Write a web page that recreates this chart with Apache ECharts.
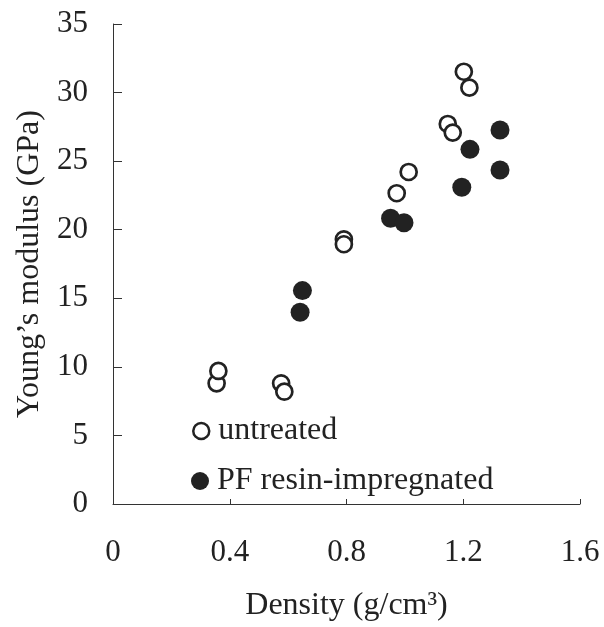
<!DOCTYPE html>
<html>
<head>
<meta charset="utf-8">
<script src="https://cdn.jsdelivr.net/npm/echarts@6/dist/echarts.min.js"></script>
<style>
html,body{margin:0;padding:0;background:#fff;}
#chart{width:604px;height:627px;}
</style>
</head>
<body>
<div id="chart"></div>
<script>
// Density (g/cm3) and Young's modulus (GPa)
const untreatedDensity = [0.355, 0.361, 0.576, 0.587, 0.791, 0.791, 0.972, 1.013, 1.147, 1.164, 1.202, 1.221];
const untreatedModulus = [8.80, 9.70, 8.80, 8.19, 19.30, 18.94, 22.66, 24.21, 27.71, 27.08, 31.52, 30.36];
const pfDensity = [0.641, 0.649, 0.951, 0.997, 1.195, 1.223, 1.326, 1.326];
const pfModulus = [13.98, 15.56, 20.83, 20.51, 23.09, 25.86, 24.35, 27.27];
const seriesNames = ['untreated', 'PF resin-impregnated'];
const xTicks = [0, 0.4, 0.8, 1.2, 1.6];
const yTicks = [0, 5, 10, 15, 20, 25, 30, 35];

const font = '"Liberation Serif", "Times New Roman", serif';
const ink = '#222';

function pairs(xs, ys) { return xs.map((x, i) => [x, ys[i]]); }

const chart = echarts.init(document.getElementById('chart'), null, {renderer: 'canvas'});
chart.setOption({
  backgroundColor: '#fff',
  animation: false,
  grid: {left: 113, right: 24, top: 24, bottom: 123, containLabel: false, outerBoundsMode: 'none'},
  legend: [
    {
      data: [seriesNames[0]], orient: 'vertical', left: 192, top: 415, padding: 0,
      itemWidth: 16, itemHeight: 16, icon: 'circle',
      itemStyle: {color: '#fff', borderColor: ink, borderWidth: 2.5},
      textStyle: {fontFamily: font, fontSize: 32, color: ink, lineHeight: 32, padding: [0, 0, 0, 4]}
    },
    {
      data: [seriesNames[1]], orient: 'vertical', left: 191, top: 465, padding: 0,
      itemWidth: 18, itemHeight: 18, icon: 'circle',
      itemStyle: {color: ink, borderWidth: 0},
      textStyle: {fontFamily: font, fontSize: 32, color: ink, lineHeight: 32, padding: [0, 0, 0, 3]}
    }
  ],
  xAxis: {
    type: 'value', min: xTicks[0], max: xTicks[xTicks.length - 1], interval: 0.4,
    name: 'Density (g/cm³)', nameLocation: 'middle', nameGap: 86,
    nameTextStyle: {fontFamily: font, fontSize: 32, color: ink},
    axisLine: {show: true, onZero: false, lineStyle: {color: '#333', width: 1}},
    axisTick: {show: true, inside: true, length: 5, lineStyle: {color: '#333'}},
    axisLabel: {fontFamily: font, fontSize: 31, color: ink, margin: 33,
      formatter: v => (v === 0 ? '0' : v.toFixed(1))},
    splitLine: {show: false}
  },
  yAxis: {
    type: 'value', min: yTicks[0], max: yTicks[yTicks.length - 1], interval: 5,
    name: "Young’s modulus (GPa)", nameLocation: 'middle', nameGap: 67, nameRotate: 90,
    nameTextStyle: {fontFamily: font, fontSize: 32, color: ink},
    axisLine: {show: true, onZero: false, lineStyle: {color: '#333', width: 1}},
    axisTick: {show: true, inside: true, length: 9, lineStyle: {color: '#333'}},
    axisLabel: {fontFamily: font, fontSize: 31, color: ink, margin: 25},
    splitLine: {show: false}
  },
  series: [
    {
      name: seriesNames[0], type: 'scatter', symbol: 'circle', symbolSize: 16,
      itemStyle: {color: '#fff', borderColor: ink, borderWidth: 2.7, opacity: 1},
      data: pairs(untreatedDensity, untreatedModulus)
    },
    {
      name: seriesNames[1], type: 'scatter', symbol: 'circle', symbolSize: 19,
      itemStyle: {color: ink, opacity: 1},
      data: pairs(pfDensity, pfModulus)
    }
  ]
});
</script>
</body>
</html>
